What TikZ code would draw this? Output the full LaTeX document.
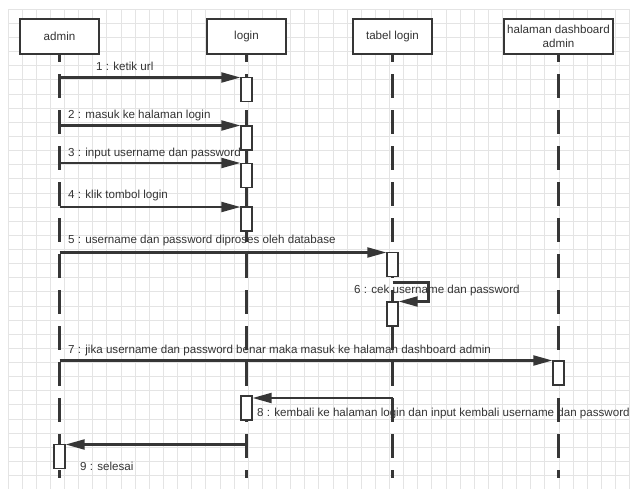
\documentclass[tikz,border=0pt]{standalone}
\usepackage{fontspec}
\setmainfont{Liberation Sans}
\usetikzlibrary{positioning,arrows.meta}
\definecolor{sqink}{HTML}{363636}
\definecolor{sqtext}{HTML}{333333}
\definecolor{sqgrid}{HTML}{E4E4E4}
\tikzset{
  head/.style={draw=sqink,fill=white,line width=2pt,minimum height=35.5pt,minimum width=79pt,inner sep=0pt,font=\fontsize{11.6}{14}\selectfont,text=sqtext,align=center},
  act/.style={draw=sqink,fill=white,line width=1.3pt,minimum width=11pt,minimum height=24pt,inner sep=0pt,anchor=north},
  life/.style={draw=sqink,line width=2.1pt,dash pattern=on 24pt off 12pt,dash phase=17pt},
  msg/.style={-{Triangle[length=19pt,width=10pt]},line width=2.1pt,draw=sqink},
  lbl/.style={font=\fontsize{11.6}{14}\selectfont,text=sqtext,anchor=base west,inner sep=0pt},
  gridln/.style={draw=sqgrid,line width=0.9pt},
}

\begin{document}
\begin{tikzpicture}[x=1pt,y=-1pt]
  \useasboundingbox (0,0) rectangle (630,489);
  \foreach \i in {0,...,44} \draw[gridln] ({8+14.13*\i},9.3) -- ({8+14.13*\i},489);
  \foreach \j in {0,...,33} \draw[gridln] (8,{9.3+14.13*\j}) -- (630,{9.3+14.13*\j});

  \node[head] (admin) at (59.5,36.5) {admin};
  \node[head,right=106pt of admin] (login) {login};
  \node[head,right=65pt of login] (tabel) {tabel login};
  \node[head,right=70pt of tabel,minimum width=109pt] (dash) {halaman dashboard\\admin};
  \foreach \n in {admin,login,tabel,dash} \draw[life] (\n.south) -- (\n.south |- 0,478);

  \node[act] (a1) at (login |- 0,77) {};
  \node[act] (a2) at (login |- 0,125.5) {};
  \node[act] (a3) at (login |- 0,163) {};
  \node[act] (a4) at (login |- 0,206.5) {};
  \node[act] (a5) at (tabel |- 0,252) {};
  \node[act] (a6) at (tabel |- 0,301.5) {};
  \node[act] (a7) at (dash |- 0,360.5) {};
  \node[act] (a8) at (login |- 0,395.5) {};
  \node[act] (a9) at (admin |- 0,444) {};

  \coordinate (s1) at (admin |- 0,77.5);
  \coordinate (s2) at (admin |- 0,125.5);
  \coordinate (s3) at (admin |- 0,163);
  \coordinate (s4) at (admin |- 0,207);
  \coordinate (s5) at (admin |- 0,252.5);
  \coordinate (s6) at (tabel |- 0,282.5);
  \coordinate (s7) at (admin |- 0,360.5);
  \coordinate (s8) at (tabel |- 0,398);
  \coordinate (s9) at (login |- 0,444.5);
  \draw[msg] (s1) -- (s1 -| a1.west);
  \draw[msg] (s2) -- (s2 -| a2.west);
  \draw[msg] (s3) -- (s3 -| a3.west);
  \draw[msg] (s4) -- (s4 -| a4.west);
  \draw[msg] (s5) -- (s5 -| a5.west);
  \draw[msg] (s6) -- ++(36,0) |- (a6.north east);
  \draw[msg] (s7) -- (s7 -| a7.west);
  \draw[msg] (s8) -- (s8 -| a8.east);
  \draw[msg] (s9) -- (s9 -| a9.east);

  \node[lbl] (l1) at (96,71) {1 : ketik url};
  \node[lbl] (l2) at (68,119) {2 : masuk ke halaman login};
  \node[lbl] (l3) at (68,156.5) {3 : input username dan password};
  \node[lbl] (l4) at (68,198.5) {4 : klik tombol login};
  \node[lbl] (l5) at (68,244) {5 : username dan password diproses oleh database};
  \node[lbl] (l6) at (354,294) {6 : cek username dan password};
  \node[lbl] (l7) at (68,353.5) {7 : jika username dan password benar maka masuk ke halaman dashboard admin};
  \node[lbl] (l8) at (257,417) {8 : kembali ke halaman login dan input kembali username dan password};
  \node[lbl] (l9) at (80,471) {9 : selesai};
\end{tikzpicture}
\end{document}
